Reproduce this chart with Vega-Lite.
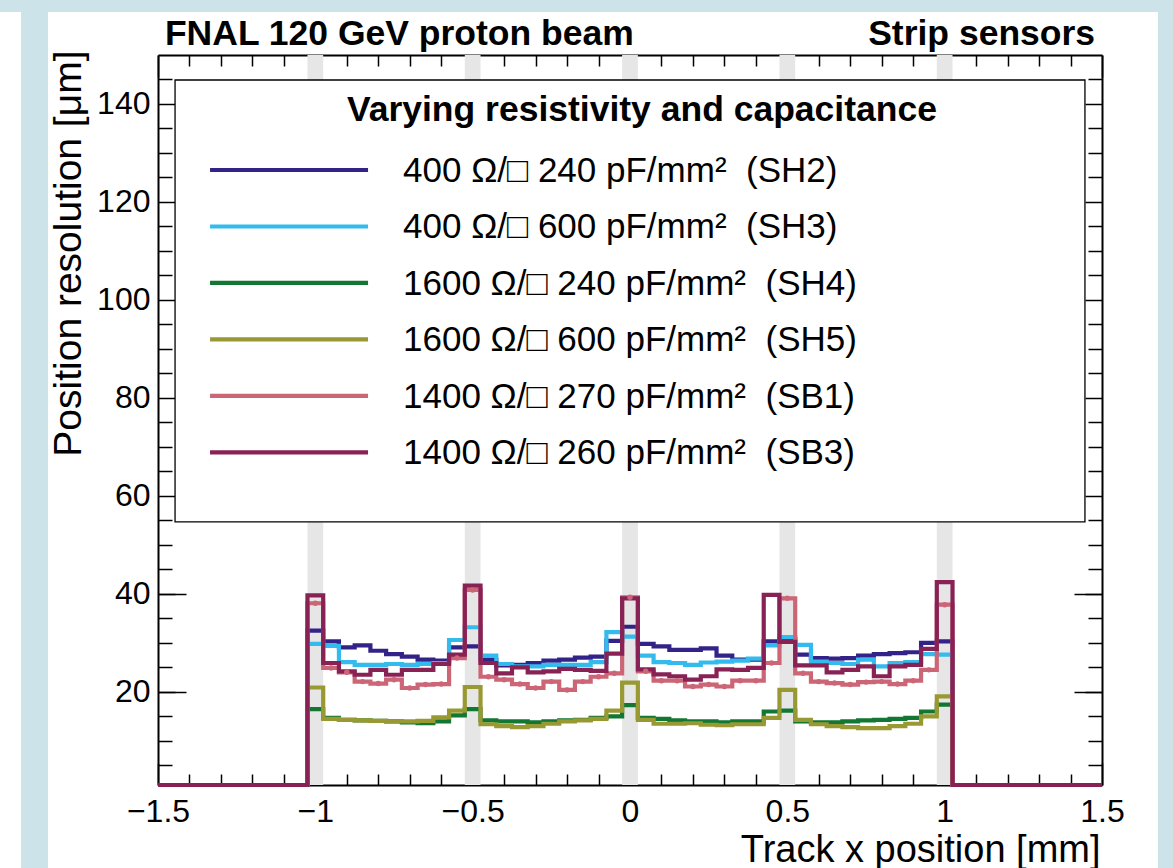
{
  "$schema": "https://vega.github.io/schema/vega-lite/v6.json",
  "width": 944,
  "height": 730,
  "autosize": {"type": "none"},
  "padding": {"left": 158, "top": 55, "right": 71, "bottom": 83},
  "background": "white",
  "config": {
    "font": "Liberation Sans",
    "view": {"stroke": null},
    "axis": {"grid": false, "zindex": 1, "domainColor": "black", "tickColor": "black", "labelColor": "black", "titleColor": "black", "labelFont": "Liberation Sans", "titleFont": "Liberation Sans", "tickWidth": 1.5, "domainWidth": 2}
  },
  "resolve": {"axis": {"x": "independent", "y": "independent"}},
  "datasets": {
    "frame": [
      {"x1": -2.01, "x2": 1.73, "y1": 158.78, "y2": 162},
      {"x1": -1.9352, "x2": -1.8494, "y1": -16, "y2": 158.78},
      {"x1": 1.6778, "x2": 1.73, "y1": -16, "y2": 158.78}
    ],
    "bands": [
      {"x1": -1.025, "x2": -0.975}, {"x1": -0.525, "x2": -0.475}, {"x1": -0.025, "x2": 0.025}, {"x1": 0.475, "x2": 0.525}, {"x1": 0.975, "x2": 1.025}
    ],
    "box": [{"x1": -1.4458, "x2": 1.4458, "y1": 54.7, "y2": 144.9}],
    "legend": [
      {"s": "SH2", "lx1": -1.3346, "lx2": -0.8325, "tx": -0.7213, "y": 126.53, "ty": 124.08, "label": "400 Ω/□ 240 pF/mm²\u00a0 (SH2)"},
      {"s": "SH3", "lx1": -1.3346, "lx2": -0.8325, "tx": -0.7213, "y": 115.0, "ty": 112.55, "label": "400 Ω/□ 600 pF/mm²\u00a0 (SH3)"},
      {"s": "SH4", "lx1": -1.3346, "lx2": -0.8325, "tx": -0.7213, "y": 103.47, "ty": 101.02, "label": "1600 Ω/□ 240 pF/mm²\u00a0 (SH4)"},
      {"s": "SH5", "lx1": -1.3346, "lx2": -0.8325, "tx": -0.7213, "y": 91.94, "ty": 89.49, "label": "1600 Ω/□ 600 pF/mm²\u00a0 (SH5)"},
      {"s": "SB1", "lx1": -1.3346, "lx2": -0.8325, "tx": -0.7213, "y": 80.41, "ty": 77.96, "label": "1400 Ω/□ 270 pF/mm²\u00a0 (SB1)"},
      {"s": "SB3", "lx1": -1.3346, "lx2": -0.8325, "tx": -0.7213, "y": 68.88, "ty": 66.43, "label": "1400 Ω/□ 260 pF/mm²\u00a0 (SB3)"}
    ],
    "hleft": [{"x": -1.478, "y": 152.0, "text": "FNAL 120 GeV proton beam"}],
    "hright": [{"x": 1.478, "y": 152.0, "text": "Strip sensors"}],
    "ltitle": [{"x": 0.038, "y": 136.53, "text": "Varying resistivity and capacitance"}],
    "hist": [
      {"s":"SH2","x":-1.5,"v":1},
      {"s":"SH2","x":-1.025,"v":32.5},{"s":"SH2","x":-0.975,"v":30.3},{"s":"SH2","x":-0.925,"v":29.1},{"s":"SH2","x":-0.875,"v":29.5},{"s":"SH2","x":-0.825,"v":28.4},{"s":"SH2","x":-0.775,"v":27.7},{"s":"SH2","x":-0.725,"v":27.2},{"s":"SH2","x":-0.675,"v":26.6},{"s":"SH2","x":-0.625,"v":26.4},{"s":"SH2","x":-0.575,"v":29.1},{"s":"SH2","x":-0.525,"v":29.3},
      {"s":"SH2","x":-0.475,"v":26.6},{"s":"SH2","x":-0.425,"v":25.4},{"s":"SH2","x":-0.375,"v":25.5},{"s":"SH2","x":-0.325,"v":25.9},{"s":"SH2","x":-0.275,"v":26.4},{"s":"SH2","x":-0.225,"v":26.6},{"s":"SH2","x":-0.175,"v":27.0},{"s":"SH2","x":-0.125,"v":27.2},{"s":"SH2","x":-0.075,"v":30.4},{"s":"SH2","x":-0.025,"v":33.3},
      {"s":"SH2","x":0.025,"v":29.8},{"s":"SH2","x":0.075,"v":29.3},{"s":"SH2","x":0.125,"v":28.6},{"s":"SH2","x":0.175,"v":28.6},{"s":"SH2","x":0.225,"v":28.9},{"s":"SH2","x":0.275,"v":27.4},{"s":"SH2","x":0.325,"v":26.6},{"s":"SH2","x":0.375,"v":26.6},{"s":"SH2","x":0.425,"v":30.3},{"s":"SH2","x":0.475,"v":30.8},
      {"s":"SH2","x":0.525,"v":27.6},{"s":"SH2","x":0.575,"v":26.9},{"s":"SH2","x":0.625,"v":26.8},{"s":"SH2","x":0.675,"v":26.9},{"s":"SH2","x":0.725,"v":27.4},{"s":"SH2","x":0.775,"v":27.7},{"s":"SH2","x":0.825,"v":27.9},{"s":"SH2","x":0.875,"v":28.1},{"s":"SH2","x":0.925,"v":30.0},{"s":"SH2","x":0.975,"v":30.3},
      {"s":"SH2","x":1.025,"v":1},{"s":"SH2","x":1.5,"v":1},

      {"s":"SH3","x":-1.5,"v":1},
      {"s":"SH3","x":-1.025,"v":29.8},{"s":"SH3","x":-0.975,"v":29.4},{"s":"SH3","x":-0.925,"v":26.1},{"s":"SH3","x":-0.875,"v":25.5},{"s":"SH3","x":-0.825,"v":25.5},{"s":"SH3","x":-0.775,"v":25.7},{"s":"SH3","x":-0.725,"v":25.5},{"s":"SH3","x":-0.675,"v":25.7},{"s":"SH3","x":-0.625,"v":25.9},{"s":"SH3","x":-0.575,"v":30.6},{"s":"SH3","x":-0.525,"v":33.2},
      {"s":"SH3","x":-0.475,"v":27.4},{"s":"SH3","x":-0.425,"v":25.7},{"s":"SH3","x":-0.375,"v":25.2},{"s":"SH3","x":-0.325,"v":25.2},{"s":"SH3","x":-0.275,"v":25.5},{"s":"SH3","x":-0.225,"v":25.5},{"s":"SH3","x":-0.175,"v":25.5},{"s":"SH3","x":-0.125,"v":26.1},{"s":"SH3","x":-0.075,"v":32.2},{"s":"SH3","x":-0.025,"v":31.3},
      {"s":"SH3","x":0.025,"v":27.4},{"s":"SH3","x":0.075,"v":26.1},{"s":"SH3","x":0.125,"v":25.9},{"s":"SH3","x":0.175,"v":25.5},{"s":"SH3","x":0.225,"v":26.0},{"s":"SH3","x":0.275,"v":26.2},{"s":"SH3","x":0.325,"v":26.4},{"s":"SH3","x":0.375,"v":26.8},{"s":"SH3","x":0.425,"v":29.5},{"s":"SH3","x":0.475,"v":31.2},
      {"s":"SH3","x":0.525,"v":29.6},{"s":"SH3","x":0.575,"v":26.2},{"s":"SH3","x":0.625,"v":25.9},{"s":"SH3","x":0.675,"v":25.7},{"s":"SH3","x":0.725,"v":26.6},{"s":"SH3","x":0.775,"v":25.2},{"s":"SH3","x":0.825,"v":25.9},{"s":"SH3","x":0.875,"v":26.1},{"s":"SH3","x":0.925,"v":27.7},{"s":"SH3","x":0.975,"v":27.6},
      {"s":"SH3","x":1.025,"v":1},{"s":"SH3","x":1.5,"v":1},

      {"s":"SH4","x":-1.5,"v":1},
      {"s":"SH4","x":-1.025,"v":16.5},{"s":"SH4","x":-0.975,"v":14.7},{"s":"SH4","x":-0.925,"v":14.3},{"s":"SH4","x":-0.875,"v":14.2},{"s":"SH4","x":-0.825,"v":14.1},{"s":"SH4","x":-0.775,"v":14.0},{"s":"SH4","x":-0.725,"v":13.8},{"s":"SH4","x":-0.675,"v":13.6},{"s":"SH4","x":-0.625,"v":14.0},{"s":"SH4","x":-0.575,"v":15.2},{"s":"SH4","x":-0.525,"v":16.5},
      {"s":"SH4","x":-0.475,"v":14.2},{"s":"SH4","x":-0.425,"v":14.0},{"s":"SH4","x":-0.375,"v":14.0},{"s":"SH4","x":-0.325,"v":13.8},{"s":"SH4","x":-0.275,"v":14.0},{"s":"SH4","x":-0.225,"v":14.2},{"s":"SH4","x":-0.175,"v":14.3},{"s":"SH4","x":-0.125,"v":14.7},{"s":"SH4","x":-0.075,"v":15.0},{"s":"SH4","x":-0.025,"v":17.3},
      {"s":"SH4","x":0.025,"v":14.7},{"s":"SH4","x":0.075,"v":14.5},{"s":"SH4","x":0.125,"v":14.2},{"s":"SH4","x":0.175,"v":14.0},{"s":"SH4","x":0.225,"v":14.0},{"s":"SH4","x":0.275,"v":13.8},{"s":"SH4","x":0.325,"v":14.0},{"s":"SH4","x":0.375,"v":14.0},{"s":"SH4","x":0.425,"v":16.0},{"s":"SH4","x":0.475,"v":16.2},
      {"s":"SH4","x":0.525,"v":14.0},{"s":"SH4","x":0.575,"v":13.8},{"s":"SH4","x":0.625,"v":13.8},{"s":"SH4","x":0.675,"v":14.0},{"s":"SH4","x":0.725,"v":14.2},{"s":"SH4","x":0.775,"v":14.3},{"s":"SH4","x":0.825,"v":14.5},{"s":"SH4","x":0.875,"v":14.7},{"s":"SH4","x":0.925,"v":16.0},{"s":"SH4","x":0.975,"v":17.4},
      {"s":"SH4","x":1.025,"v":1},{"s":"SH4","x":1.5,"v":1},

      {"s":"SH5","x":-1.5,"v":1},
      {"s":"SH5","x":-1.025,"v":20.9},{"s":"SH5","x":-0.975,"v":14.5},{"s":"SH5","x":-0.925,"v":14.3},{"s":"SH5","x":-0.875,"v":14.2},{"s":"SH5","x":-0.825,"v":14.1},{"s":"SH5","x":-0.775,"v":14.0},{"s":"SH5","x":-0.725,"v":14.0},{"s":"SH5","x":-0.675,"v":14.1},{"s":"SH5","x":-0.625,"v":14.8},{"s":"SH5","x":-0.575,"v":16.2},{"s":"SH5","x":-0.525,"v":21.0},
      {"s":"SH5","x":-0.475,"v":13.4},{"s":"SH5","x":-0.425,"v":13.0},{"s":"SH5","x":-0.375,"v":12.8},{"s":"SH5","x":-0.325,"v":13.0},{"s":"SH5","x":-0.275,"v":13.5},{"s":"SH5","x":-0.225,"v":14.0},{"s":"SH5","x":-0.175,"v":14.2},{"s":"SH5","x":-0.125,"v":14.5},{"s":"SH5","x":-0.075,"v":16.2},{"s":"SH5","x":-0.025,"v":21.9},
      {"s":"SH5","x":0.025,"v":14.3},{"s":"SH5","x":0.075,"v":13.5},{"s":"SH5","x":0.125,"v":13.5},{"s":"SH5","x":0.175,"v":13.6},{"s":"SH5","x":0.225,"v":13.3},{"s":"SH5","x":0.275,"v":13.2},{"s":"SH5","x":0.325,"v":13.4},{"s":"SH5","x":0.375,"v":13.4},{"s":"SH5","x":0.425,"v":14.7},{"s":"SH5","x":0.475,"v":20.4},
      {"s":"SH5","x":0.525,"v":14.3},{"s":"SH5","x":0.575,"v":13.4},{"s":"SH5","x":0.625,"v":13.0},{"s":"SH5","x":0.675,"v":12.8},{"s":"SH5","x":0.725,"v":12.6},{"s":"SH5","x":0.775,"v":12.6},{"s":"SH5","x":0.825,"v":13.0},{"s":"SH5","x":0.875,"v":13.5},{"s":"SH5","x":0.925,"v":15.0},{"s":"SH5","x":0.975,"v":19.1},
      {"s":"SH5","x":1.025,"v":1},{"s":"SH5","x":1.5,"v":1},

      {"s":"SB1","x":-1.5,"v":1},
      {"s":"SB1","x":-1.025,"c":-1.0,"v":38.1},{"s":"SB1","x":-0.975,"c":-0.95,"v":24.9},{"s":"SB1","x":-0.925,"c":-0.9,"v":24.0},{"s":"SB1","x":-0.875,"c":-0.85,"v":22.1},{"s":"SB1","x":-0.825,"c":-0.8,"v":21.7},{"s":"SB1","x":-0.775,"c":-0.75,"v":22.5},{"s":"SB1","x":-0.725,"c":-0.7,"v":20.8},{"s":"SB1","x":-0.675,"c":-0.65,"v":21.5},{"s":"SB1","x":-0.625,"c":-0.6,"v":21.6},{"s":"SB1","x":-0.575,"c":-0.55,"v":26.9},{"s":"SB1","x":-0.525,"c":-0.5,"v":40.8},
      {"s":"SB1","x":-0.475,"c":-0.45,"v":23.1},{"s":"SB1","x":-0.425,"c":-0.4,"v":22.5},{"s":"SB1","x":-0.375,"c":-0.35,"v":21.6},{"s":"SB1","x":-0.325,"c":-0.3,"v":20.8},{"s":"SB1","x":-0.275,"c":-0.25,"v":22.1},{"s":"SB1","x":-0.225,"c":-0.2,"v":20.4},{"s":"SB1","x":-0.175,"c":-0.15,"v":22.1},{"s":"SB1","x":-0.125,"c":-0.1,"v":23.1},{"s":"SB1","x":-0.075,"c":-0.05,"v":23.8},{"s":"SB1","x":-0.025,"c":0.0,"v":39.3},
      {"s":"SB1","x":0.025,"c":0.05,"v":24.2},{"s":"SB1","x":0.075,"c":0.1,"v":22.3},{"s":"SB1","x":0.125,"c":0.15,"v":22.3},{"s":"SB1","x":0.175,"c":0.2,"v":21.1},{"s":"SB1","x":0.225,"c":0.25,"v":21.5},{"s":"SB1","x":0.275,"c":0.3,"v":21.1},{"s":"SB1","x":0.325,"c":0.35,"v":22.3},{"s":"SB1","x":0.375,"c":0.4,"v":22.3},{"s":"SB1","x":0.425,"c":0.45,"v":25.9},{"s":"SB1","x":0.475,"c":0.5,"v":39.1},
      {"s":"SB1","x":0.525,"c":0.55,"v":23.8},{"s":"SB1","x":0.575,"c":0.6,"v":22.1},{"s":"SB1","x":0.625,"c":0.65,"v":21.8},{"s":"SB1","x":0.675,"c":0.7,"v":21.5},{"s":"SB1","x":0.725,"c":0.75,"v":22.0},{"s":"SB1","x":0.775,"c":0.8,"v":22.1},{"s":"SB1","x":0.825,"c":0.85,"v":21.6},{"s":"SB1","x":0.875,"c":0.9,"v":22.3},{"s":"SB1","x":0.925,"c":0.95,"v":24.5},{"s":"SB1","x":0.975,"c":1.0,"v":37.8},
      {"s":"SB1","x":1.025,"v":1},{"s":"SB1","x":1.5,"v":1},

      {"s":"SB3","x":-1.5,"v":1},
      {"s":"SB3","x":-1.025,"v":39.7},{"s":"SB3","x":-0.975,"v":25.9},{"s":"SB3","x":-0.925,"v":24.2},{"s":"SB3","x":-0.875,"v":23.5},{"s":"SB3","x":-0.825,"v":24.5},{"s":"SB3","x":-0.775,"v":23.5},{"s":"SB3","x":-0.725,"v":24.5},{"s":"SB3","x":-0.675,"v":24.5},{"s":"SB3","x":-0.625,"v":25.7},{"s":"SB3","x":-0.575,"v":27.6},{"s":"SB3","x":-0.525,"v":41.7},
      {"s":"SB3","x":-0.475,"v":25.9},{"s":"SB3","x":-0.425,"v":23.8},{"s":"SB3","x":-0.375,"v":25.0},{"s":"SB3","x":-0.325,"v":24.0},{"s":"SB3","x":-0.275,"v":24.2},{"s":"SB3","x":-0.225,"v":24.7},{"s":"SB3","x":-0.175,"v":24.5},{"s":"SB3","x":-0.125,"v":24.3},{"s":"SB3","x":-0.075,"v":27.8},{"s":"SB3","x":-0.025,"v":39.1},
      {"s":"SB3","x":0.025,"v":24.6},{"s":"SB3","x":0.075,"v":23.6},{"s":"SB3","x":0.125,"v":23.2},{"s":"SB3","x":0.175,"v":22.5},{"s":"SB3","x":0.225,"v":23.2},{"s":"SB3","x":0.275,"v":24.6},{"s":"SB3","x":0.325,"v":24.5},{"s":"SB3","x":0.375,"v":24.9},{"s":"SB3","x":0.425,"v":39.8},{"s":"SB3","x":0.475,"v":30.2},
      {"s":"SB3","x":0.525,"v":25.4},{"s":"SB3","x":0.575,"v":25.4},{"s":"SB3","x":0.625,"v":24.0},{"s":"SB3","x":0.675,"v":24.5},{"s":"SB3","x":0.725,"v":25.2},{"s":"SB3","x":0.775,"v":23.2},{"s":"SB3","x":0.825,"v":25.2},{"s":"SB3","x":0.875,"v":25.5},{"s":"SB3","x":0.925,"v":28.8},{"s":"SB3","x":0.975,"v":42.4},
      {"s":"SB3","x":1.025,"v":1},{"s":"SB3","x":1.5,"v":1}
    ]
  },
  "layer": [
    {
      "data": {"name": "frame"},
      "mark": {"type": "rect", "fill": "#cde3ea", "clip": false},
      "encoding": {
        "x": {"field": "x1", "type": "quantitative", "scale": {"domain": [-1.5, 1.5], "nice": false, "zero": false}, "axis": null},
        "x2": {"field": "x2"},
        "y": {"field": "y1", "type": "quantitative", "scale": {"domain": [1, 150], "nice": false, "zero": false}, "axis": null},
        "y2": {"field": "y2"}
      }
    },
    {
      "data": {"name": "bands"},
      "mark": {"type": "rect", "fill": "#e6e6e6"},
      "encoding": {
        "x": {"field": "x1", "type": "quantitative", "scale": {"domain": [-1.5, 1.5], "nice": false, "zero": false}, "axis": null},
        "x2": {"field": "x2"}
      }
    },
    {
      "data": {"name": "box"},
      "mark": {"type": "rect", "fill": "white", "stroke": "black", "strokeWidth": 1.3},
      "encoding": {
        "x": {"field": "x1", "type": "quantitative", "scale": {"domain": [-1.5, 1.5], "nice": false, "zero": false},
              "axis": {"orient": "top", "values": [-1.5, -1, -0.5, 0, 0.5, 1, 1.5], "tickSize": -22, "labels": false, "title": null}},
        "x2": {"field": "x2"},
        "y": {"field": "y1", "type": "quantitative", "scale": {"domain": [1, 150], "nice": false, "zero": false},
              "axis": {"orient": "right", "values": [20, 40, 60, 80, 100, 120, 140], "tickSize": -17, "labels": false, "title": null}},
        "y2": {"field": "y2"}
      }
    },
    {
      "data": {"name": "hist"},
      "mark": {"type": "line", "interpolate": "step-after", "strokeWidth": 4.2},
      "encoding": {
        "x": {"field": "x", "type": "quantitative", "scale": {"domain": [-1.5, 1.5], "nice": false, "zero": false},
              "axis": {"orient": "bottom", "values": [-1.5, -1, -0.5, 0, 0.5, 1, 1.5], "format": "~g", "tickSize": -22, "labelFontSize": 32, "labelPadding": 33, "labelFlush": false, "labelOverlap": false,
                       "title": "Track x position [mm]", "titleFontSize": 38, "titleFontWeight": "normal", "titleAlign": "right", "titleBaseline": "alphabetic", "titleX": 942, "titleY": 76}},
        "y": {"field": "v", "type": "quantitative", "scale": {"domain": [1, 150], "nice": false, "zero": false},
              "axis": {"orient": "left", "values": [20, 40, 60, 80, 100, 120, 140], "tickSize": -17, "labelFontSize": 32, "labelPadding": 25, "labelOverlap": false,
                       "title": "Position resolution [μm]", "titleFontSize": 39, "titleFontWeight": "normal", "titleAngle": -90, "titleAlign": "right", "titleBaseline": "alphabetic", "titleX": -78, "titleY": -5}},
        "color": {"field": "s", "type": "nominal", "scale": {"domain": ["SH2", "SH3", "SH4", "SH5", "SB1", "SB3"], "range": ["#332288", "#33bbee", "#117733", "#999933", "#cc6677", "#882255"]}, "legend": null}
      }
    },
    {
      "data": {"name": "hist"},
      "transform": [{"filter": {"field": "c", "valid": true}}],
      "mark": {"type": "circle", "size": 30, "opacity": 1, "color": "#cc6677"},
      "encoding": {
        "x": {"field": "c", "type": "quantitative", "scale": {"domain": [-1.5, 1.5], "nice": false, "zero": false},
              "axis": {"orient": "bottom", "values": [-1.4, -1.3, -1.2, -1.1, -0.9, -0.8, -0.7, -0.6, -0.4, -0.3, -0.2, -0.1, 0.1, 0.2, 0.3, 0.4, 0.6, 0.7, 0.8, 0.9, 1.1, 1.2, 1.3, 1.4], "tickSize": -11, "labels": false, "domain": false, "title": null}},
        "y": {"field": "v", "type": "quantitative", "scale": {"domain": [1, 150], "nice": false, "zero": false},
              "axis": {"orient": "left", "values": [5, 10, 15, 25, 30, 35, 45, 50, 55, 65, 70, 75, 85, 90, 95, 105, 110, 115, 125, 130, 135, 145], "tickSize": -14, "labels": false, "domain": false, "title": null}}
      }
    },
    {
      "data": {"name": "legend"},
      "mark": {"type": "rule", "strokeWidth": 4.2},
      "encoding": {
        "x": {"field": "lx1", "type": "quantitative", "scale": {"domain": [-1.5, 1.5], "nice": false, "zero": false},
              "axis": {"orient": "top", "values": [-1.4, -1.3, -1.2, -1.1, -0.9, -0.8, -0.7, -0.6, -0.4, -0.3, -0.2, -0.1, 0.1, 0.2, 0.3, 0.4, 0.6, 0.7, 0.8, 0.9, 1.1, 1.2, 1.3, 1.4], "tickSize": -11, "labels": false, "domain": false, "title": null}},
        "x2": {"field": "lx2"},
        "y": {"field": "y", "type": "quantitative", "scale": {"domain": [1, 150], "nice": false, "zero": false},
              "axis": {"orient": "right", "values": [5, 10, 15, 25, 30, 35, 45, 50, 55, 65, 70, 75, 85, 90, 95, 105, 110, 115, 125, 130, 135, 145], "tickSize": -14, "labels": false, "domain": false, "title": null}},
        "color": {"field": "s", "type": "nominal", "scale": {"domain": ["SH2", "SH3", "SH4", "SH5", "SB1", "SB3"], "range": ["#332288", "#33bbee", "#117733", "#999933", "#cc6677", "#882255"]}, "legend": null}
      }
    },
    {
      "data": {"name": "legend"},
      "mark": {"type": "text", "align": "left", "baseline": "alphabetic", "fontSize": 35, "color": "black"},
      "encoding": {
        "x": {"field": "tx", "type": "quantitative", "scale": {"domain": [-1.5, 1.5], "nice": false, "zero": false}, "axis": null},
        "y": {"field": "ty", "type": "quantitative", "scale": {"domain": [1, 150], "nice": false, "zero": false},
              "axis": {"orient": "left", "values": [20, 40], "tickSize": -28, "labels": false, "domain": false, "title": null}},
        "text": {"field": "label"}
      }
    },
    {
      "data": {"name": "hleft"},
      "mark": {"type": "text", "align": "left", "baseline": "alphabetic", "fontSize": 35.5, "fontWeight": "bold", "color": "black"},
      "encoding": {
        "x": {"field": "x", "type": "quantitative", "scale": {"domain": [-1.5, 1.5], "nice": false, "zero": false}, "axis": null},
        "y": {"field": "y", "type": "quantitative", "scale": {"domain": [1, 150], "nice": false, "zero": false},
              "axis": {"orient": "right", "values": [20, 40], "tickSize": -28, "labels": false, "domain": false, "title": null}},
        "text": {"field": "text"}
      }
    },
    {
      "data": {"name": "hright"},
      "mark": {"type": "text", "align": "right", "baseline": "alphabetic", "fontSize": 35.5, "fontWeight": "bold", "color": "black"},
      "encoding": {
        "x": {"field": "x", "type": "quantitative", "scale": {"domain": [-1.5, 1.5], "nice": false, "zero": false}, "axis": null},
        "y": {"field": "y", "type": "quantitative", "scale": {"domain": [1, 150], "nice": false, "zero": false}, "axis": null},
        "text": {"field": "text"}
      }
    },
    {
      "data": {"name": "ltitle"},
      "mark": {"type": "text", "align": "center", "baseline": "alphabetic", "fontSize": 35.5, "fontWeight": "bold", "color": "black"},
      "encoding": {
        "x": {"field": "x", "type": "quantitative", "scale": {"domain": [-1.5, 1.5], "nice": false, "zero": false}, "axis": null},
        "y": {"field": "y", "type": "quantitative", "scale": {"domain": [1, 150], "nice": false, "zero": false}, "axis": null},
        "text": {"field": "text"}
      }
    }
  ]
}
